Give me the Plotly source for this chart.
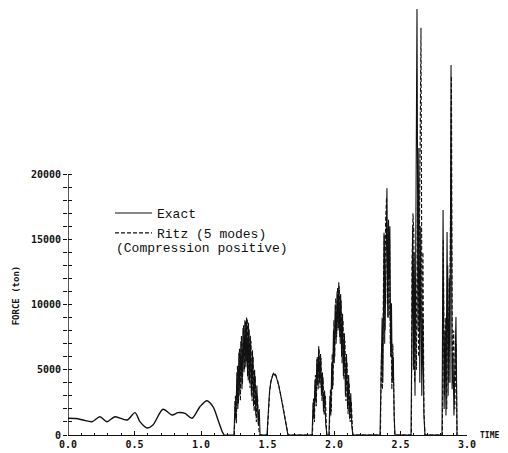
import plotly.graph_objects as go

# ---------------- data ----------------
# smooth low-frequency part (both solutions coincide)
smooth_t = [0.000, 0.060, 0.113, 0.180, 0.240, 0.293, 0.353, 0.444, 0.504, 0.541, 0.594,
            0.639, 0.714, 0.782, 0.827, 0.880, 0.932, 0.992, 1.045, 1.090, 1.130, 1.160, 1.173]
smooth_f = [1280, 1260, 1150, 1020, 1400, 1020, 1400, 1150, 1710, 1020, 540,
            770, 1970, 1530, 1710, 1660, 1280, 2170, 2630, 2170, 1100, 250, 0]

# Exact solution bursts
exact_b1_t = [1.173, 1.248, 1.256, 1.262, 1.270, 1.277, 1.285, 1.292, 1.300, 1.308, 1.316, 1.323,
              1.330, 1.337, 1.343, 1.350, 1.357, 1.364, 1.371, 1.379, 1.387, 1.395, 1.403,
              1.412, 1.420, 1.430, 1.438, 1.444]
exact_b1_f = [0, 0, 2600, 1200, 4800, 2000, 6300, 3000, 7200, 3500, 8200, 4800,
              8800, 5200, 9000, 4500, 8600, 4000, 7600, 3000, 6500, 2200, 5000,
              1500, 3800, 800, 2000, 0]
hump_t = [1.496, 1.505, 1.515, 1.525, 1.535, 1.545, 1.552, 1.560, 1.570, 1.585, 1.600,
          1.615, 1.630, 1.645, 1.654, 1.835]
hump_f = [0, 1800, 3300, 4100, 4500, 4750, 4600, 4650, 4300, 3800, 3000,
          2200, 1400, 600, 0, 0]
exact_b3_t = [1.843, 1.850, 1.857, 1.864, 1.871, 1.878, 1.885, 1.892, 1.899, 1.906, 1.913,
              1.921, 1.929, 1.938, 1.947, 1.962]
exact_b3_f = [2500, 1200, 4200, 2500, 5800, 3800, 6800, 4000, 6200, 3000, 4800,
              1800, 3400, 800, 0, 0]
exact_b4_t = [1.970, 1.976, 1.983, 1.989, 1.996, 2.002, 2.009, 2.016, 2.023, 2.030, 2.036,
              2.043, 2.050, 2.057, 2.064, 2.071, 2.078, 2.086, 2.094, 2.102, 2.110, 2.118,
              2.126, 2.134, 2.143, 2.346]
exact_b4_f = [3000, 1500, 5500, 3500, 8000, 5500, 10000, 7000, 11000, 8000, 11700,
              7500, 10800, 6000, 9300, 4500, 7800, 3000, 6200, 2000, 4600, 1200,
              3200, 600, 0, 0]
exact_b5_t = [2.356, 2.362, 2.367, 2.373, 2.378, 2.384, 2.392, 2.398, 2.404, 2.410, 2.415,
              2.420, 2.426, 2.432, 2.438, 2.446, 2.452, 2.459, 2.579]
exact_b5_f = [6000, 9000, 4000, 13500, 15300, 8000, 17000, 18900, 9000, 16500, 12000,
              16000, 6000, 10100, 4000, 6000, 1500, 0, 0]
exact_b6_t = [2.587, 2.592, 2.597, 2.603, 2.609, 2.616, 2.624, 2.632, 2.638, 2.645, 2.652,
              2.660, 2.668, 2.676, 2.684, 2.812]
exact_b6_f = [12000, 16000, 5000, 14000, 3000, 20000, 32650, 8000, 22000, 4000, 16000,
              3000, 9000, 1500, 0, 0]
exact_b7_t = [2.820, 2.828, 2.835, 2.842, 2.850, 2.858, 2.866, 2.872, 2.880, 2.888, 2.895,
              2.902, 2.910, 2.917, 2.925]
exact_b7_f = [17240, 2000, 8000, 1500, 15560, 3000, 12000, 4000, 28350, 3500, 6000,
              1500, 5000, 9040, 0]

# Ritz (5 modes) bursts
ritz_b1_t = [1.250, 1.259, 1.266, 1.274, 1.281, 1.289, 1.296, 1.304, 1.312, 1.320, 1.327,
             1.334, 1.341, 1.348, 1.355, 1.362, 1.369, 1.376, 1.384, 1.392, 1.400, 1.408,
             1.416, 1.425, 1.434, 1.442]
ritz_b1_f = [0, 3000, 900, 5300, 2400, 6600, 2600, 7600, 3900, 8400, 5000, 8700,
             5600, 8900, 4200, 8100, 3600, 7200, 2600, 6000, 1800, 4500, 1000, 3000,
             500, 0]
ritz_hump_t = [1.498, 1.507, 1.517, 1.527, 1.537, 1.547, 1.555, 1.563, 1.574, 1.588, 1.603,
               1.618, 1.633, 1.647, 1.655, 1.838]
ritz_hump_f = [0, 1900, 3400, 4150, 4550, 4700, 4650, 4550, 4250, 3700, 2900,
               2100, 1300, 500, 0, 0]
ritz_b3_t = [1.846, 1.853, 1.860, 1.867, 1.874, 1.881, 1.888, 1.895, 1.902, 1.910, 1.918,
             1.926, 1.935, 1.945, 1.964]
ritz_b3_f = [2800, 1000, 4600, 2200, 6000, 3500, 6600, 3600, 5900, 2600, 4400,
             1500, 3000, 0, 0]
ritz_b4_t = [1.973, 1.980, 1.986, 1.993, 1.999, 2.006, 2.013, 2.020, 2.027, 2.033, 2.040,
             2.047, 2.054, 2.061, 2.068, 2.075, 2.082, 2.090, 2.098, 2.106, 2.114, 2.122,
             2.130, 2.141, 2.349]
ritz_b4_f = [3500, 1800, 6200, 3800, 8800, 6000, 10500, 7500, 11300, 8200, 11400,
             7000, 10300, 5500, 8800, 4200, 7200, 2600, 5600, 1600, 4000, 1000,
             2600, 0, 0]
ritz_b5_t = [2.358, 2.364, 2.370, 2.376, 2.381, 2.388, 2.395, 2.401, 2.407, 2.412, 2.418,
             2.423, 2.429, 2.435, 2.442, 2.449, 2.456, 2.582]
ritz_b5_f = [7000, 3500, 12000, 15500, 7000, 16500, 18200, 10000, 16000, 9000, 15000,
             7000, 9500, 3500, 7000, 1200, 0, 0]
ritz_b6_t = [2.586, 2.594, 2.600, 2.606, 2.614, 2.620, 2.628, 2.636, 2.647, 2.654, 2.662,
             2.669, 2.676, 2.684, 2.815]
ritz_b6_f = [13000, 17000, 15500, 4000, 12000, 5000, 18000, 6000, 25000, 31200, 6000,
             14000, 2000, 0, 0]
ritz_b7_t = [2.822, 2.830, 2.840, 2.848, 2.855, 2.863, 2.874, 2.883, 2.890, 2.900, 2.908,
             2.918, 2.925]
ritz_b7_f = [15000, 3000, 9000, 2000, 13000, 4000, 14000, 27500, 5000, 8000, 2000,
             7000, 0]

exact_t = exact_b1_t + hump_t + exact_b3_t + exact_b4_t + exact_b5_t + exact_b6_t + exact_b7_t
exact_f = exact_b1_f + hump_f + exact_b3_f + exact_b4_f + exact_b5_f + exact_b6_f + exact_b7_f
ritz_t = ritz_b1_t + ritz_hump_t + ritz_b3_t + ritz_b4_t + ritz_b5_t + ritz_b6_t + ritz_b7_t
ritz_f = ritz_b1_f + ritz_hump_f + ritz_b3_f + ritz_b4_f + ritz_b5_f + ritz_b6_f + ritz_b7_f

x_tickvals = [0.0, 0.5, 1.0, 1.5, 2.0, 2.5, 3.0]
x_ticktext = ["0.0", "0.5", "1.0", "1.5", "2.0", "2.5", "3.0"]
y_tickvals = list(range(0, 20001, 1000))
y_ticktext = [str(v) if v % 5000 == 0 else "" for v in y_tickvals]

# ---------------- figure ----------------
OFF = 8                      # page body margin of the browser
W, H = 500, 445
ML, MR, MT, MB = 60, 41, 0, 18
PW, PH = W - ML - MR, H - MT - MB
YMAX = PH / 13.05 * 1000


def px(ax):  # absolute page x -> paper x
    return (ax - OFF - ML) / PW


def py(ay):  # absolute page y -> paper y
    return (H - MB - (ay - OFF)) / PH


ink = "#111111"
tick_font = dict(family="DejaVu Sans Mono", size=10, color=ink, weight="bold")
mono = "Liberation Mono"

fig = go.Figure()
fig.add_trace(go.Scatter(x=smooth_t, y=smooth_f, mode="lines", showlegend=False,
                         line=dict(color=ink, width=1.4, shape="spline", smoothing=0.8)))
fig.add_trace(go.Scatter(x=ritz_t, y=ritz_f, mode="lines", name="Ritz (5 modes)",
                         line=dict(color=ink, width=1.1, dash="4px,2px")))
fig.add_trace(go.Scatter(x=exact_t, y=exact_f, mode="lines", name="Exact",
                         line=dict(color=ink, width=1.1)))
# invisible trace on the overlay axis so it renders
fig.add_trace(go.Scatter(x=[0], y=[0], mode="lines", yaxis="y2", showlegend=False,
                         line=dict(width=0), hoverinfo="skip"))

fig.update_layout(
    width=W, height=H,
    margin=dict(l=ML, r=MR, t=MT, b=MB),
    paper_bgcolor="white", plot_bgcolor="white",
    legend=dict(x=px(110), y=py(198), xanchor="left", yanchor="top",
                traceorder="reversed",
                font=dict(family=mono, size=13, color=ink),
                bgcolor="rgba(0,0,0,0)", itemwidth=37, tracegroupgap=0),
    xaxis=dict(range=[0, 3.0], tickvals=x_tickvals, ticktext=x_ticktext,
               ticks="inside", ticklen=4, tickwidth=1.2, tickcolor=ink,
               minor=dict(dtick=0.1, ticks="inside", ticklen=2, tickcolor=ink),
               showline=True, linecolor=ink, linewidth=1.4,
               showgrid=False, zeroline=False, tickfont=tick_font),
    yaxis=dict(range=[0, YMAX], tickvals=y_tickvals, ticktext=y_ticktext,
               ticks="outside", ticklen=4, tickwidth=1.2, tickcolor=ink,
               showline=False, showgrid=False, zeroline=False, tickfont=tick_font),
    yaxis2=dict(range=[0, YMAX], overlaying="y", side="left", anchor="x",
                tickvals=y_tickvals, ticks="inside", ticklen=4, tickwidth=1.2,
                tickcolor=ink, showticklabels=False, showline=False,
                showgrid=False, zeroline=False),
    shapes=[dict(type="line", xref="x", yref="y", x0=0, x1=0, y0=0, y1=20000,
                 line=dict(color=ink, width=1.4))],
    annotations=[
        dict(text="FORCE (ton)", textangle=-90, xref="paper", yref="y",
             x=px(16), y=10700, showarrow=False,
             xanchor="center", yanchor="middle",
             font=dict(family="DejaVu Sans Mono", size=9, color=ink, weight="bold")),
        dict(text="TIME", xref="paper", yref="y", x=px(478), y=0,
             showarrow=False, xanchor="left", yanchor="middle",
             font=dict(family="DejaVu Sans Mono", size=8, color=ink, weight="bold")),
        dict(text="(Compression positive)", xref="paper", yref="paper",
             x=px(114), y=py(249), showarrow=False, xanchor="left", yanchor="middle",
             font=dict(family=mono, size=13, color=ink)),
    ],
)

fig.write_html("out.html")
